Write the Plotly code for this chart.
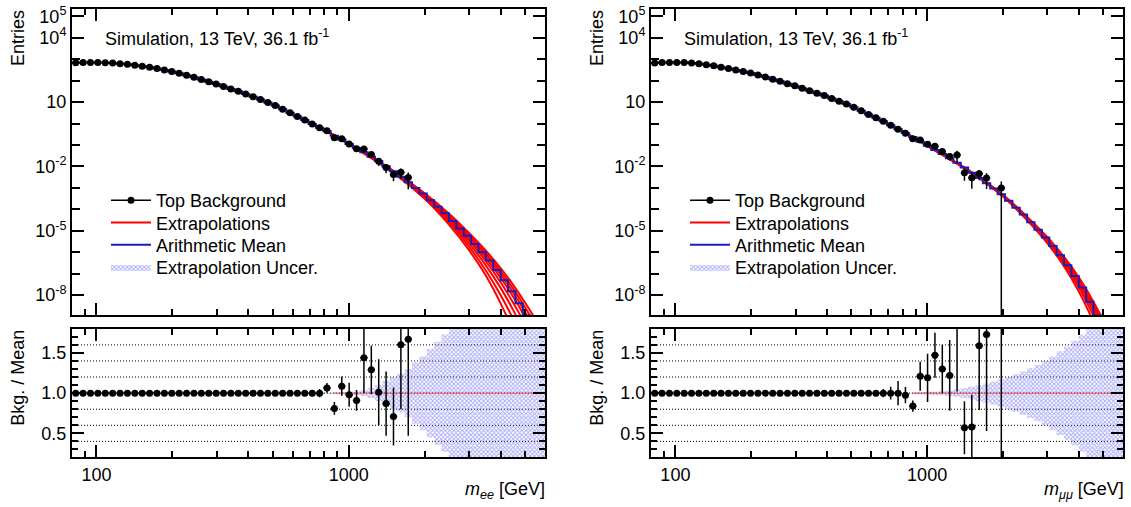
import numpy as np
import plotly.graph_objects as go

FONT = "Liberation Sans, Arial, Helvetica, sans-serif"
FS = 18
W, H = 1131, 507

# ---------------- binning ----------------
N_BINS = 64
M_LOW, M_HIGH = 80.0, 6000.0
edges = np.geomspace(M_LOW, M_HIGH, N_BINS + 1)
centers = np.sqrt(edges[:-1] * edges[1:])

# ---------------- ee channel ----------------
ee_mean = [676, 700, 700, 692, 684, 661, 617, 575, 525, 468,
           417, 367, 316, 263, 219, 178, 143, 112, 88.1, 69.2,
           53.1, 41.2, 31.6, 24.0, 17.8, 13.2, 9.66, 6.92, 4.68, 3.16,
           2.14, 1.45, 0.955, 0.631, 0.432, 0.269, 0.180, 0.112, 0.0724, 0.0457,
           0.0282, 0.0174, 0.0102, 0.00589, 0.00331, 0.00182, 1.0e-3, 5.5e-4, 2.63e-4, 1.32e-4,
           6.6e-5, 2.88e-5, 1.29e-5, 5.9e-6, 2.45e-6, 1.0e-6, 4.17e-7, 1.51e-7, 5.0e-8, 1.51e-8,
           4.2e-9, 1.12e-9, 2.5e-10, 6.3e-11]
ee_data = [676, 700, 700, 692, 684, 661, 617, 575, 525, 468,
           417, 367, 316, 263, 219, 178, 143, 112, 88.1, 69.2,
           53.1, 41.2, 31.6, 24.0, 17.8, 13.2, 9.66, 6.92, 4.68, 3.16,
           2.14, 1.45, 0.955, 0.631, 0.460, 0.218, 0.195, 0.110, 0.0659, 0.0658,
           0.0364, 0.0176, 0.00887, 0.00418, 0.00530, 0.00304]
ee_ratio = [1.0, 1.0, 1.0, 1.0, 1.0, 1.0, 1.0, 1.0, 1.0, 1.0,
            1.0, 1.0, 1.0, 1.0, 1.0, 1.0, 1.0, 1.0, 1.0, 1.0,
            1.0, 1.0, 1.0, 1.0, 1.0, 1.0, 1.0, 1.0, 1.0, 1.0,
            1.0, 1.0, 1.0, 1.0, 1.065, 0.81, 1.086, 0.98, 0.91, 1.44,
            1.29, 1.01, 0.87, 0.71, 1.60, 1.67]
ee_ratio_err = [0.003, 0.003, 0.003, 0.003, 0.003, 0.003, 0.003, 0.003, 0.003, 0.003,
                0.003, 0.003, 0.003, 0.003, 0.003, 0.003, 0.003, 0.003, 0.003, 0.003,
                0.005, 0.005, 0.005, 0.005, 0.005, 0.005, 0.008, 0.01, 0.012, 0.015,
                0.02, 0.025, 0.04, 0.05, 0.06, 0.08, 0.12, 0.15, 0.13, 0.44,
                0.30, 0.41, 0.40, 0.36, 0.80, 1.20]
ee_band_rel = [0, 0, 0, 0, 0, 0, 0, 0, 0, 0,
               0, 0, 0, 0, 0, 0, 0, 0, 0, 0,
               0, 0, 0, 0, 0, 0, 0, 0, 0, 0,
               0, 0, 0, 0, 0.004, 0.006, 0.01, 0.015, 0.02, 0.035,
               0.06, 0.10, 0.15, 0.20, 0.24, 0.30, 0.38, 0.46, 0.55, 0.64,
               0.73, 0.82, 0.92, 1.02, 1.12, 1.22, 1.33, 1.45, 1.58, 1.70,
               1.85, 2.0, 2.2, 2.4]

# ---------------- mumu channel ----------------
mm_mean = [661, 700, 708, 700, 692, 661, 617, 556, 490, 422,
           367, 316, 269, 224, 184, 148, 117, 92.3, 72.4, 57.5,
           44.2, 33.5, 26.0, 20.0, 14.6, 10.8, 8.13, 5.75, 3.89, 2.63,
           1.84, 1.29, 0.832, 0.537, 0.363, 0.234, 0.141, 0.0912, 0.0589, 0.0380,
           0.0240, 0.0148, 0.00891, 0.00513, 0.00288, 0.00166, 9.3e-4, 5.1e-4, 2.5e-4, 1.2e-4,
           5.75e-5, 2.51e-5, 1.12e-5, 4.9e-6, 1.95e-6, 7.2e-7, 2.45e-7, 7.9e-8, 2.3e-8, 5.0e-9,
           1.12e-9, 2.2e-10, 4.0e-11, 6.3e-12]
mm_data = [661, 700, 708, 700, 692, 661, 617, 556, 490, 422,
           367, 316, 269, 224, 184, 148, 117, 92.3, 72.4, 57.5,
           44.2, 33.5, 26.0, 20.0, 14.6, 10.8, 8.13, 5.75, 3.89, 2.63,
           1.84, 1.29, 0.832, 0.537, 0.354, 0.197, 0.171, 0.1085, 0.0866, 0.0494,
           0.0293, 0.0346, 0.00508, 0.00298, 0.00458, 0.00287, None, 1.0e-3]
mm_ratio = [1.0, 1.0, 1.0, 1.0, 1.0, 1.0, 1.0, 1.0, 1.0, 1.0,
            1.0, 1.0, 1.0, 1.0, 1.0, 1.0, 1.0, 1.0, 1.0, 1.0,
            1.0, 1.0, 1.0, 1.0, 1.0, 1.0, 1.0, 1.0, 1.0, 1.0,
            1.0, 1.0, 1.0, 1.0, 0.975, 0.84, 1.21, 1.19, 1.47, 1.30,
            1.22, 2.34, 0.57, 0.58, 1.59, 1.73, None, 1.96]
mm_ratio_err = [0.003, 0.003, 0.003, 0.003, 0.003, 0.003, 0.003, 0.003, 0.003, 0.003,
                0.003, 0.003, 0.003, 0.003, 0.003, 0.003, 0.003, 0.003, 0.003, 0.003,
                0.005, 0.005, 0.005, 0.005, 0.005, 0.005, 0.008, 0.01, 0.012, 0.015,
                0.02, 0.05, 0.08, 0.15, 0.10, 0.07, 0.18, 0.30, 0.28, 0.30,
                0.44, 1.32, 0.33, 0.40, 0.80, 1.20, None, 1.96]
mm_band_rel = [0, 0, 0, 0, 0, 0, 0, 0, 0, 0,
               0, 0, 0, 0, 0, 0, 0, 0, 0, 0,
               0, 0, 0, 0, 0, 0, 0, 0, 0, 0,
               0, 0, 0, 0, 0, 0.005, 0.01, 0.015, 0.02, 0.025,
               0.035, 0.045, 0.06, 0.08, 0.10, 0.12, 0.145, 0.17, 0.20, 0.235,
               0.27, 0.31, 0.35, 0.40, 0.46, 0.52, 0.58, 0.65, 0.73, 0.81,
               0.90, 1.0, 1.1, 1.2]

# ---------------- extrapolation curves (log10 of entries) ----------------
curve_mass = [600, 800, 1000, 1500, 2000, 2500, 3000, 3500, 4000, 4500, 5000, 5500, 6000]
ee_extrap_log10 = [
    [0.44, -0.30, -0.93, -2.20, -3.25, -4.20, -5.10, -5.93, -6.74, -7.54, -8.34, -9.13, -9.90],
    [0.44, -0.30, -0.93, -2.21, -3.28, -4.26, -5.18, -6.04, -6.88, -7.72, -8.56, -9.40, -10.2],
    [0.44, -0.30, -0.94, -2.22, -3.31, -4.32, -5.26, -6.15, -7.02, -7.90, -8.78, -9.66, -10.5],
    [0.44, -0.30, -0.94, -2.23, -3.34, -4.38, -5.35, -6.28, -7.19, -8.10, -9.02, -9.95, -10.9],
    [0.44, -0.30, -0.94, -2.24, -3.37, -4.45, -5.46, -6.43, -7.40, -8.38, -9.36, -10.35, -11.3],
    [0.44, -0.30, -0.95, -2.25, -3.41, -4.53, -5.59, -6.62, -7.66, -8.72, -9.80, -10.9, -12.0],
    [0.43, -0.31, -0.95, -2.27, -3.46, -4.62, -5.74, -6.86, -7.99, -9.14, -10.3, -11.5, -12.7],
    [0.43, -0.31, -0.96, -2.29, -3.51, -4.72, -5.90, -7.10, -8.38, -9.70, -11.0, -12.4, -13.8],
]
mm_extrap_log10 = [
    [0.37, -0.37, -1.02, -2.26, -3.32, -4.35, -5.29, -6.22, -7.16, -8.15, -9.15, -10.2, -11.3],
    [0.37, -0.37, -1.02, -2.27, -3.34, -4.38, -5.34, -6.29, -7.26, -8.28, -9.32, -10.4, -11.5],
    [0.36, -0.38, -1.03, -2.28, -3.35, -4.41, -5.38, -6.36, -7.36, -8.42, -9.50, -10.6, -11.8],
    [0.36, -0.38, -1.03, -2.28, -3.37, -4.44, -5.43, -6.44, -7.48, -8.58, -9.70, -10.9, -12.1],
    [0.36, -0.38, -1.03, -2.29, -3.38, -4.47, -5.49, -6.53, -7.62, -8.78, -9.95, -11.2, -12.4],
    [0.36, -0.38, -1.04, -2.30, -3.40, -4.52, -5.57, -6.66, -7.82, -9.05, -10.3, -11.6, -12.9],
]
unity_line_start = 870.0

# ---------------- axis / text settings ----------------
Y_LABEL_VALS = [1e-8, 1e-5, 1e-2, 10, 1e4, 1e5]
Y_LABEL_TEXT = ["10<sup>-8</sup>", "10<sup>-5</sup>", "10<sup>-2</sup>", "10",
                "10<sup>4</sup>", "10<sup>5</sup>"]
Y_MINOR_VALS = [1e-7, 1e-6, 1e-4, 1e-3, 1e-1, 1, 100, 1000]
X_MAJOR_VALS = [100, 1000]
X_MINOR_VALS = [90, 200, 300, 400, 500, 600, 700, 800, 900, 2000, 3000, 4000, 5000]
R_MAJOR_VALS = [0.5, 1.0, 1.5]
R_MINOR_VALS = [0.3, 0.4, 0.6, 0.7, 0.8, 0.9, 1.1, 1.2, 1.3, 1.4, 1.6, 1.7]
R_GRID_VALS = [0.4, 0.6, 0.8, 1.0, 1.2, 1.4, 1.6]
LEGEND_ROWS_PX = [197.5, 220, 242.5, 265]

RED = "#ff0000"
BLUE = "#1c1cb8"
BAND_FG = "#5a5af2"

L_DOM = [72 / W, 545 / W]
R_DOM = [651 / W, 1123 / W]
TOP_DOM = [1 - 313 / H, 1 - 4 / H]
BOT_DOM = [1 - 457 / H, 1 - 327 / H]

fig = go.Figure()


def add_channel(mean, data, ratio, rerr, band_rel, curves_log, xt, yt, xb, yb, legs):
    mean = np.array(mean, dtype=float)
    nd = len(data)
    d_x = centers[:nd]
    ex_p = edges[1:nd + 1] - d_x
    ex_m = d_x - edges[:nd]

    # --- ratio band (step polygon) ---
    idx = [i for i, r in enumerate(band_rel) if r > 0]
    xs_up, ys_up, ys_lo = [], [], []
    for i in idx:
        xs_up += [edges[i], edges[i + 1]]
        ys_up += [1 + band_rel[i], 1 + band_rel[i]]
        ys_lo += [1 - band_rel[i], 1 - band_rel[i]]
    poly_x = xs_up + xs_up[::-1]
    poly_y = ys_up + ys_lo[::-1]
    fig.add_trace(go.Scatter(
        x=poly_x, y=poly_y, xaxis=xb, yaxis=yb, mode="lines", fill="toself",
        line=dict(width=0, color="rgba(0,0,0,0)"),
        fillcolor="rgba(255,255,255,0)",
        fillpattern=dict(shape="x", fgcolor=BAND_FG, bgcolor="rgba(255,255,255,0)",
                         size=3, solidity=0.55),
        name="Extrapolation Uncer.", legend=legs[3], showlegend=True,
        hoverinfo="skip"))

    # --- unity line of the extrapolations in the ratio ---
    fig.add_trace(go.Scatter(
        x=[unity_line_start, M_HIGH], y=[1.0, 1.0], xaxis=xb, yaxis=yb, mode="lines",
        line=dict(color="rgba(255,60,60,0.45)", width=2), showlegend=False, hoverinfo="skip"))

    # --- ratio points ---
    fig.add_trace(go.Scatter(
        x=d_x, y=ratio, xaxis=xb, yaxis=yb, mode="markers",
        marker=dict(color="black", size=7, symbol="circle"),
        error_x=dict(type="data", symmetric=False, array=ex_p, arrayminus=ex_m,
                     color="black", thickness=1.5, width=0),
        error_y=dict(type="data", array=rerr, color="black", thickness=1.5, width=0),
        showlegend=False, hoverinfo="skip"))

    # --- extrapolation curves ---
    for k, cl in enumerate(curves_log):
        fig.add_trace(go.Scatter(
            x=curve_mass, y=np.power(10.0, np.array(cl)), xaxis=xt, yaxis=yt, mode="lines",
            line=dict(color=RED, width=2, shape="spline", smoothing=1.0),
            name="Extrapolations", legend=legs[1], showlegend=(k == 0),
            hoverinfo="skip"))

    # --- arithmetic mean (step histogram) ---
    step_x = list(edges[:-1]) + [edges[-1]]
    step_y = list(mean) + [mean[-1]]
    fig.add_trace(go.Scatter(
        x=step_x, y=step_y, xaxis=xt, yaxis=yt, mode="lines",
        line=dict(color=BLUE, width=2, shape="hv"),
        name="Arithmetic Mean", legend=legs[2], showlegend=True, hoverinfo="skip"))

    # --- data points ---
    dat = np.array([np.nan if v is None else v for v in data], dtype=float)
    rat = np.array([np.nan if v is None else v for v in ratio], dtype=float)
    rer = np.array([np.nan if v is None else v for v in rerr], dtype=float)
    err_top = dat * rer / rat
    fig.add_trace(go.Scatter(
        x=d_x, y=dat, xaxis=xt, yaxis=yt, mode="markers",
        marker=dict(color="black", size=7, symbol="circle"),
        error_x=dict(type="data", symmetric=False, array=ex_p, arrayminus=ex_m,
                     color="black", thickness=1.5, width=0),
        error_y=dict(type="data", array=err_top, color="black", thickness=1.5, width=0),
        showlegend=False, hoverinfo="skip"))
    # legend entry for the data
    fig.add_trace(go.Scatter(
        x=[None], y=[None], xaxis=xt, yaxis=yt, mode="lines+markers",
        line=dict(color="black", width=1.5), marker=dict(color="black", size=7),
        name="Top Background", legend=legs[0], showlegend=True))

    # ratio grid lines
    for g in R_GRID_VALS:
        fig.add_shape(type="line", xref=xb + " domain", yref=yb, x0=0, x1=1, y0=g, y1=g,
                      line=dict(color="black", width=1, dash="1px,2px"), layer="below")


add_channel(ee_mean, ee_data, ee_ratio, ee_ratio_err, ee_band_rel, ee_extrap_log10,
            "x", "y", "x2", "y2", ["legend", "legend2", "legend3", "legend4"])
add_channel(mm_mean, mm_data, mm_ratio, mm_ratio_err, mm_band_rel, mm_extrap_log10,
            "x3", "y3", "x4", "y4", ["legend5", "legend6", "legend7", "legend8"])

tickfont = dict(family=FONT, size=FS, color="black")


def xcfg(domain, anchor, labels):
    return dict(type="log", range=[np.log10(M_LOW), np.log10(M_HIGH)], domain=domain,
                anchor=anchor, showline=True, linecolor="black", linewidth=2,
                mirror="allticks", ticks="inside", ticklen=12, tickwidth=1.5,
                tickcolor="black", tickmode="array", tickvals=X_MAJOR_VALS,
                ticktext=[str(v) for v in X_MAJOR_VALS], showticklabels=labels,
                showgrid=False, zeroline=False, tickfont=tickfont,
                minor=dict(tickmode="array", tickvals=X_MINOR_VALS, ticks="inside",
                           ticklen=6, tickwidth=1.5, tickcolor="black", showgrid=False))


def ytop(domain, anchor):
    return dict(type="log", range=[-8.92, 5.34], domain=domain, anchor=anchor,
                showline=True, linecolor="black", linewidth=2, mirror="allticks",
                ticks="inside", ticklen=12, tickwidth=1.5, tickcolor="black",
                tickmode="array", tickvals=Y_LABEL_VALS, ticktext=Y_LABEL_TEXT,
                showgrid=False, zeroline=False, tickfont=tickfont,
                ticklabeloverflow="allow",
                minor=dict(tickmode="array", tickvals=Y_MINOR_VALS, ticks="inside",
                           ticklen=8, tickwidth=1.5, tickcolor="black", showgrid=False))


def ybot(domain, anchor):
    return dict(range=[0.2, 1.8], domain=domain, anchor=anchor,
                showline=True, linecolor="black", linewidth=2, mirror="allticks",
                ticks="inside", ticklen=12, tickwidth=1.5, tickcolor="black",
                tickmode="array", tickvals=R_MAJOR_VALS,
                ticktext=["0.5", "1.0", "1.5"], showgrid=False, zeroline=False,
                tickfont=tickfont,
                minor=dict(tickmode="array", tickvals=R_MINOR_VALS, ticks="inside",
                           ticklen=6, tickwidth=1.5, tickcolor="black", showgrid=False))


legend_common = dict(xanchor="left", yanchor="middle", bgcolor="rgba(0,0,0,0)",
                     font=dict(family=FONT, size=FS, color="black"),
                     tracegroupgap=0, itemwidth=40, borderwidth=0)
legends = {}
names = ["legend", "legend2", "legend3", "legend4", "legend5", "legend6", "legend7", "legend8"]
for j, nm in enumerate(names):
    off = 0 if j < 4 else 579
    legends[nm] = dict(x=(106 + off) / W, y=1 - LEGEND_ROWS_PX[j % 4] / H, **legend_common)

annotations = []
for off, xtitle in [(0, "<i>m</i><sub><i>ee</i></sub> [GeV]"),
                    (579, "<i>m</i><sub><i>μμ</i></sub> [GeV]")]:
    annotations += [
        dict(text="Entries", x=(18 + off) / W, y=1 - 3 / H, xref="paper", yref="paper",
             textangle=-90, xanchor="center", yanchor="top", showarrow=False,
             font=dict(family=FONT, size=FS, color="black")),
        dict(text="Bkg. / Mean", x=(18 + off) / W, y=1 - 326 / H, xref="paper", yref="paper",
             textangle=-90, xanchor="center", yanchor="top", showarrow=False,
             font=dict(family=FONT, size=FS, color="black")),
        dict(text="Simulation, 13 TeV, 36.1 fb<sup>-1</sup>", x=(103 + off) / W,
             y=1 - 33 / H, xref="paper", yref="paper", xanchor="left", yanchor="middle",
             showarrow=False, font=dict(family=FONT, size=FS, color="black")),
        dict(text=xtitle, x=(547 + off) / W, y=1 - 490 / H, xref="paper", yref="paper",
             xanchor="right", yanchor="middle", showarrow=False,
             font=dict(family=FONT, size=FS, color="black")),
    ]

fig.update_layout(
    width=W, height=H, margin=dict(l=0, r=0, t=0, b=0),
    paper_bgcolor="white", plot_bgcolor="white",
    font=dict(family=FONT, size=FS, color="black"),
    xaxis=xcfg(L_DOM, "y", False), yaxis=ytop(TOP_DOM, "x"),
    xaxis2=xcfg(L_DOM, "y2", True), yaxis2=ybot(BOT_DOM, "x2"),
    xaxis3=xcfg(R_DOM, "y3", False), yaxis3=ytop(TOP_DOM, "x3"),
    xaxis4=xcfg(R_DOM, "y4", True), yaxis4=ybot(BOT_DOM, "x4"),
    annotations=annotations,
    showlegend=True,
    **legends,
)

fig.write_html("out.html")
